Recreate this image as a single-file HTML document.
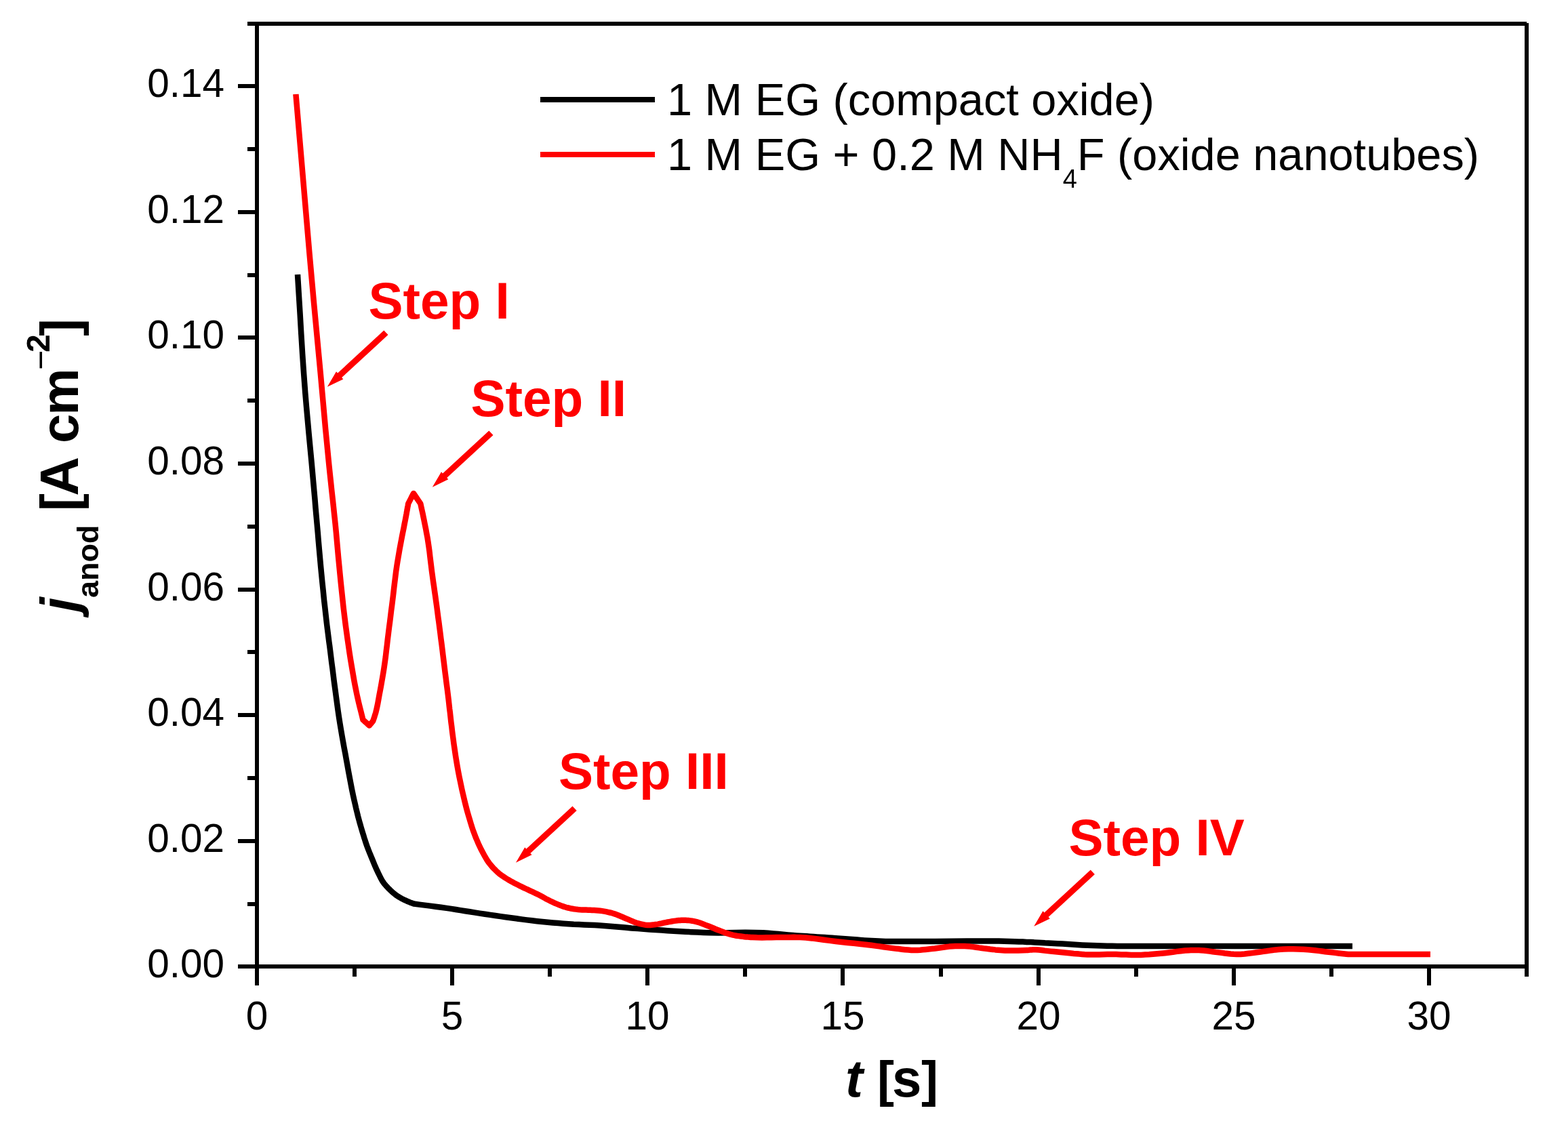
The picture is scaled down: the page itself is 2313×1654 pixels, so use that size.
<!DOCTYPE html>
<html lang="en"><head><meta charset="utf-8"><title>Anodic current density transients</title>
<style>
html,body{margin:0;padding:0;background:#fff;}
body{width:2313px;height:1654px;}
svg{display:block;}
text{font-family:"Liberation Sans",Arial,Helvetica,sans-serif;}
.tk{font-size:58.5px;fill:#000;}
.lg{font-size:66.7px;fill:#000;}
.st{font-size:76.5px;font-weight:bold;fill:#f00;}
.ax{font-size:78px;font-weight:bold;fill:#000;}
</style></head><body>
<svg width="2313" height="1654" viewBox="0 0 2313 1654">
<rect x="0" y="0" width="2313" height="1654" fill="#fff"/>
<g fill="#000" shape-rendering="crispEdges">
<rect x="376" y="32" width="6" height="1422"/>
<rect x="2249" y="34" width="6" height="1407"/>
<rect x="365" y="32" width="1887" height="6"/>
<rect x="351" y="1423" width="1904" height="6"/>
<rect x="351" y="1423" width="25" height="6"/>
<rect x="365" y="1331" width="11" height="6"/>
<rect x="351" y="1238" width="25" height="6"/>
<rect x="365" y="1145" width="11" height="6"/>
<rect x="351" y="1052" width="25" height="6"/>
<rect x="365" y="959" width="11" height="6"/>
<rect x="351" y="867" width="25" height="6"/>
<rect x="365" y="774" width="11" height="6"/>
<rect x="351" y="681" width="25" height="6"/>
<rect x="365" y="588" width="11" height="6"/>
<rect x="351" y="495" width="25" height="6"/>
<rect x="365" y="403" width="11" height="6"/>
<rect x="351" y="310" width="25" height="6"/>
<rect x="365" y="217" width="11" height="6"/>
<rect x="351" y="124" width="25" height="6"/>
<rect x="520" y="1429" width="6" height="12"/>
<rect x="664" y="1429" width="6" height="25"/>
<rect x="808" y="1429" width="6" height="12"/>
<rect x="952" y="1429" width="6" height="25"/>
<rect x="1096" y="1429" width="6" height="12"/>
<rect x="1240" y="1429" width="6" height="25"/>
<rect x="1385" y="1429" width="6" height="12"/>
<rect x="1529" y="1429" width="6" height="25"/>
<rect x="1673" y="1429" width="6" height="12"/>
<rect x="1817" y="1429" width="6" height="25"/>
<rect x="1961" y="1429" width="6" height="12"/>
<rect x="2105" y="1429" width="6" height="25"/>
</g>
<g class="tk" text-anchor="end">
<text x="331" y="1442">0.00</text>
<text x="331" y="1257">0.02</text>
<text x="331" y="1071">0.04</text>
<text x="331" y="886">0.06</text>
<text x="331" y="700">0.08</text>
<text x="331" y="514">0.10</text>
<text x="331" y="329">0.12</text>
<text x="331" y="143">0.14</text>
</g>
<g class="tk" text-anchor="middle">
<text x="379" y="1519">0</text>
<text x="667" y="1519">5</text>
<text x="955" y="1519">10</text>
<text x="1243" y="1519">15</text>
<text x="1532" y="1519">20</text>
<text x="1820" y="1519">25</text>
<text x="2108" y="1519">30</text>
</g>
<path d="M439.0,405.0 L440.8,434.2 L442.6,463.3 L444.3,492.5 L446.1,521.7 L448.1,550.9 L450.3,580.0 L452.0,600.0 L453.8,620.0 L455.6,640.0 L457.5,660.0 L459.4,680.0 L461.2,700.0 L462.3,712.3 L463.4,724.6 L464.5,736.9 L465.5,749.3 L466.6,761.6 L467.7,773.9 L468.8,786.2 L469.8,798.5 L470.9,810.9 L472.0,823.2 L473.1,835.5 L474.3,847.8 L475.5,860.1 L476.8,872.5 L478.0,884.8 L479.4,897.1 L480.8,909.4 L482.2,921.7 L483.0,928.1 L483.8,934.5 L484.6,940.9 L485.4,947.2 L486.3,953.6 L487.1,960.0 L488.2,968.9 L489.3,977.9 L490.5,986.8 L491.6,995.7 L492.7,1004.7 L493.9,1013.6 L495.1,1022.5 L496.3,1031.5 L497.5,1040.4 L498.7,1049.3 L500.0,1058.2 L501.4,1067.1 L502.9,1076.1 L504.4,1085.0 L506.0,1093.9 L507.6,1102.9 L509.3,1111.8 L510.9,1120.7 L512.5,1129.6 L514.1,1138.6 L515.8,1147.5 L517.5,1156.5 L519.2,1165.4 L521.1,1174.3 L522.4,1180.3 L523.8,1186.2 L525.1,1192.2 L526.6,1198.2 L528.0,1204.1 L529.6,1210.0 L530.5,1213.3 L531.5,1216.7 L532.4,1220.0 L533.4,1223.4 L534.4,1226.7 L535.4,1230.0 L536.4,1233.1 L537.3,1236.2 L538.3,1239.3 L539.3,1242.4 L540.3,1245.4 L541.4,1248.5 L542.6,1251.6 L543.8,1254.7 L545.0,1257.8 L546.3,1260.9 L547.5,1263.9 L548.8,1267.0 L550.1,1270.1 L551.3,1273.2 L552.6,1276.3 L553.9,1279.3 L555.3,1282.4 L556.7,1285.4 L558.1,1288.4 L559.6,1291.4 L561.1,1294.5 L562.6,1297.4 L564.3,1300.3 L566.2,1303.0 L567.6,1304.8 L569.1,1306.5 L570.6,1308.2 L572.2,1309.9 L573.8,1311.5 L575.4,1313.1 L576.9,1314.5 L578.4,1315.9 L579.9,1317.2 L581.5,1318.5 L583.1,1319.8 L584.7,1321.0 L586.2,1322.0 L587.7,1323.0 L589.2,1323.9 L590.8,1324.8 L592.3,1325.7 L593.9,1326.5 L595.4,1327.3 L596.9,1328.0 L598.5,1328.7 L600.0,1329.4 L601.5,1330.1 L603.1,1330.7 L604.3,1331.2 L605.6,1331.7 L606.8,1332.1 L608.0,1332.6 L609.3,1333.0 L610.5,1333.5 L618.5,1334.6 L626.5,1335.6 L634.6,1336.6 L642.6,1337.7 L650.6,1338.8 L658.6,1339.9 L665.5,1340.9 L672.4,1342.0 L679.3,1343.1 L686.2,1344.2 L693.1,1345.3 L700.0,1346.4 L707.7,1347.6 L715.4,1348.7 L723.1,1349.9 L730.8,1351.0 L738.5,1352.1 L746.2,1353.2 L753.9,1354.3 L761.6,1355.3 L769.3,1356.4 L777.0,1357.4 L784.7,1358.3 L792.4,1359.2 L800.1,1360.0 L807.8,1360.8 L815.5,1361.5 L823.2,1362.1 L830.9,1362.7 L838.6,1363.3 L846.3,1363.8 L854.0,1364.1 L861.7,1364.4 L869.4,1364.7 L877.1,1365.1 L884.8,1365.5 L894.2,1366.2 L903.5,1366.9 L912.9,1367.7 L922.2,1368.5 L931.5,1369.4 L940.9,1370.1 L949.7,1370.8 L958.5,1371.4 L967.3,1372.0 L976.1,1372.6 L984.9,1373.2 L993.7,1373.7 L1002.5,1374.2 L1011.3,1374.7 L1020.1,1375.2 L1029.0,1375.6 L1037.8,1376.0 L1046.6,1376.3 L1059.8,1376.5 L1073.0,1376.3 L1086.2,1376.1 L1099.4,1375.8 L1112.6,1375.9 L1125.8,1376.3 L1133.2,1376.8 L1140.5,1377.4 L1147.9,1378.0 L1155.2,1378.7 L1162.5,1379.4 L1169.9,1380.0 L1174.9,1380.4 L1179.9,1380.7 L1184.9,1381.0 L1190.0,1381.3 L1195.0,1381.7 L1200.0,1382.0 L1205.5,1382.4 L1210.9,1382.7 L1216.4,1383.1 L1221.9,1383.5 L1227.3,1383.8 L1232.8,1384.2 L1243.4,1385.0 L1253.9,1385.8 L1264.5,1386.6 L1275.1,1387.4 L1285.6,1388.1 L1296.2,1388.6 L1306.2,1388.9 L1316.2,1389.0 L1326.1,1389.0 L1336.1,1389.0 L1346.1,1389.0 L1356.1,1389.0 L1379.6,1389.0 L1403.1,1388.8 L1426.6,1388.6 L1450.0,1388.5 L1473.5,1388.6 L1497.0,1389.2 L1502.9,1389.4 L1508.8,1389.6 L1514.7,1389.9 L1520.5,1390.1 L1526.4,1390.4 L1532.3,1390.7 L1536.9,1390.9 L1541.5,1391.2 L1546.2,1391.4 L1550.8,1391.7 L1555.4,1391.9 L1560.0,1392.2 L1567.3,1392.6 L1574.7,1393.1 L1582.0,1393.6 L1589.3,1394.0 L1596.7,1394.4 L1604.0,1394.8 L1611.3,1395.1 L1618.7,1395.3 L1626.0,1395.5 L1633.3,1395.7 L1640.7,1395.8 L1648.0,1396.0 L1705.8,1396.0 L1763.7,1396.0 L1821.5,1396.0 L1879.3,1396.0 L1937.2,1396.0 L1995.0,1396.0" fill="none" stroke="#000" stroke-width="8.5" stroke-linejoin="round" stroke-linecap="butt"/>
<path d="M436.4,139.0 L440.4,185.8 L444.4,232.7 L448.4,279.5 L452.4,326.3 L456.4,373.2 L460.6,420.0 L463.0,446.7 L465.5,473.3 L468.0,500.0 L470.5,526.7 L473.0,553.3 L475.4,580.0 L476.0,586.7 L476.6,593.3 L477.2,600.0 L477.8,606.7 L478.4,613.3 L479.0,620.0 L480.2,633.3 L481.5,646.7 L482.8,660.0 L484.1,673.3 L485.4,686.7 L486.8,700.0 L488.1,712.3 L489.4,724.6 L490.8,736.9 L492.1,749.3 L493.4,761.6 L494.7,773.9 L495.9,786.2 L497.0,798.5 L498.1,810.9 L499.2,823.2 L500.4,835.5 L501.6,847.8 L502.8,860.1 L504.1,872.5 L505.4,884.8 L506.7,897.1 L508.2,909.4 L509.7,921.7 L511.1,932.0 L512.5,942.3 L514.0,952.5 L515.5,962.8 L517.1,973.1 L518.8,983.3 L520.0,990.3 L521.2,997.2 L522.4,1004.2 L523.7,1011.1 L525.1,1018.1 L526.5,1025.0 L527.9,1031.2 L529.3,1037.4 L530.8,1043.5 L532.4,1049.7 L533.9,1055.8 L535.4,1062.0 L537.0,1063.4 L538.5,1064.8 L540.1,1066.2 L541.7,1067.7 L543.2,1069.1 L544.8,1070.5 L545.7,1069.4 L546.6,1068.3 L547.5,1067.2 L548.4,1066.1 L549.3,1065.0 L550.2,1063.9 L550.9,1061.9 L551.6,1059.8 L552.3,1057.8 L552.9,1055.7 L553.6,1053.7 L554.2,1051.6 L555.3,1047.2 L556.3,1042.8 L557.2,1038.4 L558.0,1033.9 L558.8,1029.5 L559.6,1025.0 L560.8,1018.7 L562.0,1012.4 L563.1,1006.0 L564.2,999.7 L565.3,993.3 L566.3,987.0 L567.6,978.2 L568.8,969.4 L569.8,960.5 L570.9,951.7 L571.9,942.8 L573.0,934.0 L574.0,925.8 L575.1,917.6 L576.1,909.4 L577.1,901.1 L578.2,892.9 L579.2,884.7 L580.2,876.5 L581.1,868.3 L582.1,860.1 L583.1,851.9 L584.1,843.7 L585.3,835.5 L586.3,829.1 L587.4,822.6 L588.5,816.2 L589.6,809.8 L590.8,803.4 L592.0,797.0 L593.1,791.1 L594.3,785.2 L595.5,779.3 L596.6,773.4 L597.8,767.5 L598.9,761.6 L599.5,758.5 L600.0,755.4 L600.6,752.4 L601.1,749.3 L601.7,746.2 L602.2,743.1 L603.5,740.6 L604.8,738.1 L606.1,735.6 L607.4,733.0 L608.7,730.5 L610.0,728.0 L611.7,730.5 L613.4,733.0 L615.1,735.5 L616.9,738.1 L618.6,740.6 L620.3,743.1 L621.0,746.2 L621.6,749.3 L622.3,752.3 L623.0,755.4 L623.7,758.5 L624.3,761.6 L625.6,767.8 L626.8,774.0 L628.1,780.3 L629.2,786.5 L630.4,792.7 L631.4,799.0 L632.5,806.3 L633.5,813.6 L634.3,820.9 L635.2,828.3 L636.1,835.6 L637.0,842.9 L638.0,850.3 L639.0,857.7 L640.1,865.1 L641.1,872.4 L642.2,879.8 L643.2,887.2 L644.3,895.0 L645.3,902.8 L646.3,910.6 L647.4,918.4 L648.4,926.2 L649.4,934.0 L650.4,942.2 L651.5,950.4 L652.5,958.6 L653.5,966.9 L654.5,975.1 L655.5,983.3 L656.5,991.5 L657.6,999.7 L658.6,1007.9 L659.7,1016.1 L660.7,1024.3 L661.7,1032.5 L662.2,1037.1 L662.7,1041.7 L663.2,1046.3 L663.8,1050.8 L664.3,1055.4 L664.8,1060.0 L665.5,1066.2 L666.3,1072.3 L667.0,1078.5 L667.8,1084.7 L668.6,1090.8 L669.4,1097.0 L670.3,1103.2 L671.2,1109.3 L672.1,1115.5 L673.1,1121.6 L674.1,1127.8 L675.2,1133.9 L676.3,1140.1 L677.5,1146.3 L678.8,1152.4 L680.1,1158.6 L681.4,1164.8 L682.8,1170.9 L684.1,1176.5 L685.4,1182.0 L686.8,1187.6 L688.2,1193.1 L689.7,1198.6 L691.3,1204.1 L692.7,1208.8 L694.1,1213.4 L695.5,1218.1 L697.0,1222.7 L698.6,1227.3 L700.3,1231.8 L701.9,1236.0 L703.7,1240.1 L705.4,1244.2 L707.3,1248.3 L709.2,1252.3 L711.3,1256.3 L712.9,1259.3 L714.5,1262.2 L716.2,1265.2 L717.9,1268.1 L719.7,1270.9 L721.7,1273.6 L723.9,1276.3 L726.1,1279.0 L728.5,1281.6 L731.0,1284.1 L733.5,1286.5 L736.2,1288.8 L738.1,1290.3 L740.1,1291.7 L742.1,1293.1 L744.1,1294.4 L746.1,1295.7 L748.2,1297.0 L750.7,1298.5 L753.1,1299.9 L755.7,1301.3 L758.2,1302.7 L760.7,1304.0 L763.3,1305.3 L765.8,1306.6 L768.4,1307.8 L771.0,1309.1 L773.5,1310.3 L776.1,1311.5 L778.7,1312.7 L781.0,1313.8 L783.3,1314.9 L785.6,1315.9 L787.8,1317.0 L790.1,1318.1 L792.4,1319.2 L796.6,1321.3 L800.8,1323.6 L804.9,1325.9 L809.1,1328.1 L813.3,1330.2 L817.6,1332.2 L820.5,1333.4 L823.4,1334.6 L826.3,1335.8 L829.2,1336.9 L832.2,1337.9 L835.2,1338.8 L838.1,1339.5 L841.0,1340.2 L843.9,1340.7 L846.9,1341.2 L849.8,1341.6 L852.8,1342.0 L855.7,1342.3 L858.7,1342.4 L861.6,1342.5 L864.6,1342.6 L867.5,1342.7 L870.5,1342.8 L873.4,1343.0 L876.4,1343.1 L879.3,1343.3 L882.3,1343.5 L885.2,1343.7 L888.1,1344.1 L891.1,1344.6 L894.0,1345.1 L897.0,1345.8 L899.9,1346.5 L902.8,1347.2 L905.7,1348.1 L908.7,1349.1 L911.6,1350.3 L914.6,1351.5 L917.5,1352.7 L920.4,1354.0 L923.3,1355.2 L926.2,1356.4 L929.1,1357.7 L932.0,1358.9 L934.9,1360.2 L937.9,1361.3 L940.9,1362.2 L943.2,1362.8 L945.5,1363.4 L947.9,1363.9 L950.3,1364.4 L952.6,1364.7 L955.0,1364.9 L957.0,1364.9 L959.1,1364.9 L961.1,1364.7 L963.2,1364.5 L965.3,1364.3 L967.3,1364.0 L970.3,1363.6 L973.2,1363.0 L976.1,1362.4 L979.0,1361.7 L982.0,1361.1 L984.9,1360.5 L987.2,1360.1 L989.6,1359.7 L991.9,1359.3 L994.3,1358.9 L996.6,1358.6 L999.0,1358.3 L1001.1,1358.1 L1003.1,1358.0 L1005.2,1357.8 L1007.3,1357.8 L1009.3,1357.8 L1011.4,1357.8 L1013.7,1357.9 L1016.1,1358.1 L1018.4,1358.4 L1020.8,1358.7 L1023.1,1359.1 L1025.4,1359.6 L1028.4,1360.4 L1031.4,1361.3 L1034.3,1362.3 L1037.3,1363.4 L1040.2,1364.6 L1043.1,1365.7 L1046.0,1366.8 L1049.0,1368.0 L1051.9,1369.2 L1054.8,1370.5 L1057.8,1371.7 L1060.7,1372.8 L1063.6,1373.9 L1066.5,1375.0 L1069.4,1376.1 L1072.4,1377.1 L1075.3,1378.1 L1078.3,1378.9 L1081.2,1379.6 L1084.1,1380.2 L1087.0,1380.7 L1090.0,1381.1 L1092.9,1381.5 L1095.9,1381.9 L1098.2,1382.2 L1100.6,1382.4 L1102.9,1382.6 L1105.3,1382.7 L1107.6,1382.9 L1110.0,1383.0 L1117.0,1383.3 L1124.1,1383.4 L1131.1,1383.3 L1138.2,1383.2 L1145.2,1383.1 L1152.3,1383.0 L1156.9,1383.0 L1161.5,1382.9 L1166.2,1382.9 L1170.8,1382.8 L1175.4,1382.9 L1180.0,1383.0 L1188.8,1383.5 L1197.6,1384.4 L1206.4,1385.5 L1215.2,1386.7 L1224.0,1387.9 L1232.8,1389.0 L1241.6,1390.0 L1250.4,1390.9 L1259.3,1391.8 L1268.1,1392.8 L1276.9,1393.7 L1285.7,1394.8 L1291.6,1395.6 L1297.4,1396.4 L1303.3,1397.3 L1309.2,1398.1 L1315.0,1398.9 L1320.9,1399.6 L1325.6,1400.1 L1330.3,1400.7 L1335.0,1401.2 L1339.7,1401.6 L1344.4,1401.9 L1349.1,1402.0 L1353.2,1401.9 L1357.3,1401.7 L1361.4,1401.3 L1365.5,1400.9 L1369.6,1400.5 L1373.7,1400.1 L1379.0,1399.5 L1384.3,1398.7 L1389.6,1398.0 L1394.9,1397.2 L1400.2,1396.6 L1405.5,1396.2 L1409.0,1396.1 L1412.5,1396.0 L1416.1,1395.9 L1419.6,1395.9 L1423.1,1396.0 L1426.6,1396.2 L1431.0,1396.6 L1435.4,1397.1 L1439.8,1397.7 L1444.2,1398.4 L1448.6,1399.0 L1453.0,1399.6 L1456.8,1400.0 L1460.6,1400.5 L1464.4,1400.9 L1468.3,1401.4 L1472.1,1401.7 L1475.9,1402.0 L1482.4,1402.4 L1488.8,1402.6 L1495.3,1402.6 L1501.8,1402.6 L1508.2,1402.3 L1514.7,1402.0 L1516.2,1401.9 L1517.6,1401.8 L1519.1,1401.6 L1520.6,1401.5 L1522.0,1401.4 L1523.5,1401.3 L1527.9,1401.3 L1532.3,1401.6 L1536.7,1402.0 L1541.1,1402.6 L1545.5,1403.1 L1549.9,1403.6 L1554.9,1404.1 L1559.9,1404.6 L1564.9,1405.1 L1570.0,1405.6 L1575.0,1406.0 L1580.0,1406.5 L1584.0,1406.9 L1588.0,1407.2 L1592.0,1407.6 L1596.0,1407.9 L1600.0,1408.2 L1604.0,1408.4 L1609.9,1408.5 L1615.8,1408.5 L1621.6,1408.4 L1627.5,1408.2 L1633.4,1408.1 L1639.3,1408.0 L1646.6,1408.1 L1654.0,1408.4 L1661.3,1408.6 L1668.6,1408.9 L1676.0,1409.0 L1683.3,1408.9 L1689.2,1408.6 L1695.0,1408.3 L1700.9,1407.8 L1706.8,1407.3 L1712.6,1406.8 L1718.5,1406.2 L1724.4,1405.5 L1730.2,1404.8 L1736.1,1403.9 L1741.9,1403.2 L1747.8,1402.6 L1753.7,1402.2 L1756.6,1402.1 L1759.6,1402.0 L1762.6,1402.0 L1765.5,1402.0 L1768.5,1402.1 L1771.4,1402.2 L1775.8,1402.5 L1780.2,1403.0 L1784.6,1403.6 L1789.0,1404.2 L1793.4,1404.9 L1797.8,1405.4 L1802.2,1405.9 L1806.6,1406.5 L1811.0,1407.0 L1815.4,1407.5 L1819.8,1407.8 L1824.2,1408.0 L1830.1,1407.9 L1835.9,1407.5 L1841.8,1406.8 L1847.7,1406.1 L1853.5,1405.3 L1859.4,1404.5 L1863.8,1403.9 L1868.2,1403.3 L1872.6,1402.6 L1877.0,1402.0 L1881.4,1401.4 L1885.8,1401.0 L1893.1,1400.5 L1900.5,1400.3 L1907.8,1400.3 L1915.2,1400.5 L1922.6,1400.8 L1929.9,1401.3 L1934.9,1401.7 L1939.9,1402.3 L1945.0,1402.9 L1950.0,1403.5 L1955.0,1404.2 L1960.0,1404.8 L1964.8,1405.3 L1969.6,1405.9 L1974.3,1406.4 L1979.1,1406.9 L1983.9,1407.5 L1988.7,1408.0 L2008.9,1408.0 L2029.1,1408.0 L2049.3,1408.0 L2069.6,1408.0 L2089.8,1408.0 L2110.0,1408.0" fill="none" stroke="#f00" stroke-width="8.5" stroke-linejoin="round" stroke-linecap="butt"/>
<g shape-rendering="crispEdges"><rect x="797" y="143" width="169" height="8" fill="#000"/>
<rect x="797" y="224" width="169" height="8" fill="#f00"/></g>
<text class="lg" x="984" y="170">1 M EG (compact oxide)</text>
<text class="lg" x="984" y="251">1 M EG + 0.2 M NH<tspan dy="26" font-size="38">4</tspan><tspan dy="-26">F (oxide nanotubes)</tspan></text>
<polygon fill="#f00" points="482.8,570.8 506.3,559.4 504.2,557.1 572.5,494.1 566.3,487.5 498.1,550.5 496.0,548.3"/>
<polygon fill="#f00" points="637.8,718.7 661.3,707.3 659.2,705.0 727.5,642.0 721.3,635.4 653.1,698.4 651.0,696.2"/>
<polygon fill="#f00" points="761.0,1272.7 784.5,1261.3 782.4,1259.0 850.7,1196.0 844.5,1189.4 776.3,1252.4 774.2,1250.2"/>
<polygon fill="#f00" points="1525.2,1366.8 1548.7,1355.4 1546.6,1353.1 1614.9,1290.1 1608.7,1283.5 1540.5,1346.5 1538.4,1344.3"/>
<text class="st" x="543.4" y="470">Step I</text>
<text class="st" x="694.4" y="614">Step II</text>
<text class="st" x="823.9" y="1164">Step III</text>
<text class="st" x="1576.5" y="1262">Step IV</text>
<g class="ax">
<text x="1247" y="1618" font-style="italic">t</text>
<text x="1294" y="1618" font-size="75">[</text>
<text x="1316" y="1618">s</text>
<text x="1359" y="1618" font-size="75">]</text>
</g>
<g class="ax" transform="rotate(-90)">
<text x="-903" y="115" font-style="italic">j</text>
<text x="-882" y="145" font-size="45">anod</text>
<text x="-754" y="115">[</text>
<text x="-731.7" y="115" font-size="80">A</text>
<text x="-654" y="115">c</text>
<text x="-612.7" y="115">m</text>
<text x="-546" y="77.3" font-size="50" font-weight="normal">−</text>
<text x="-520" y="73" font-size="48">2</text>
<text x="-496" y="115">]</text>
</g>
</svg>
</body></html>
